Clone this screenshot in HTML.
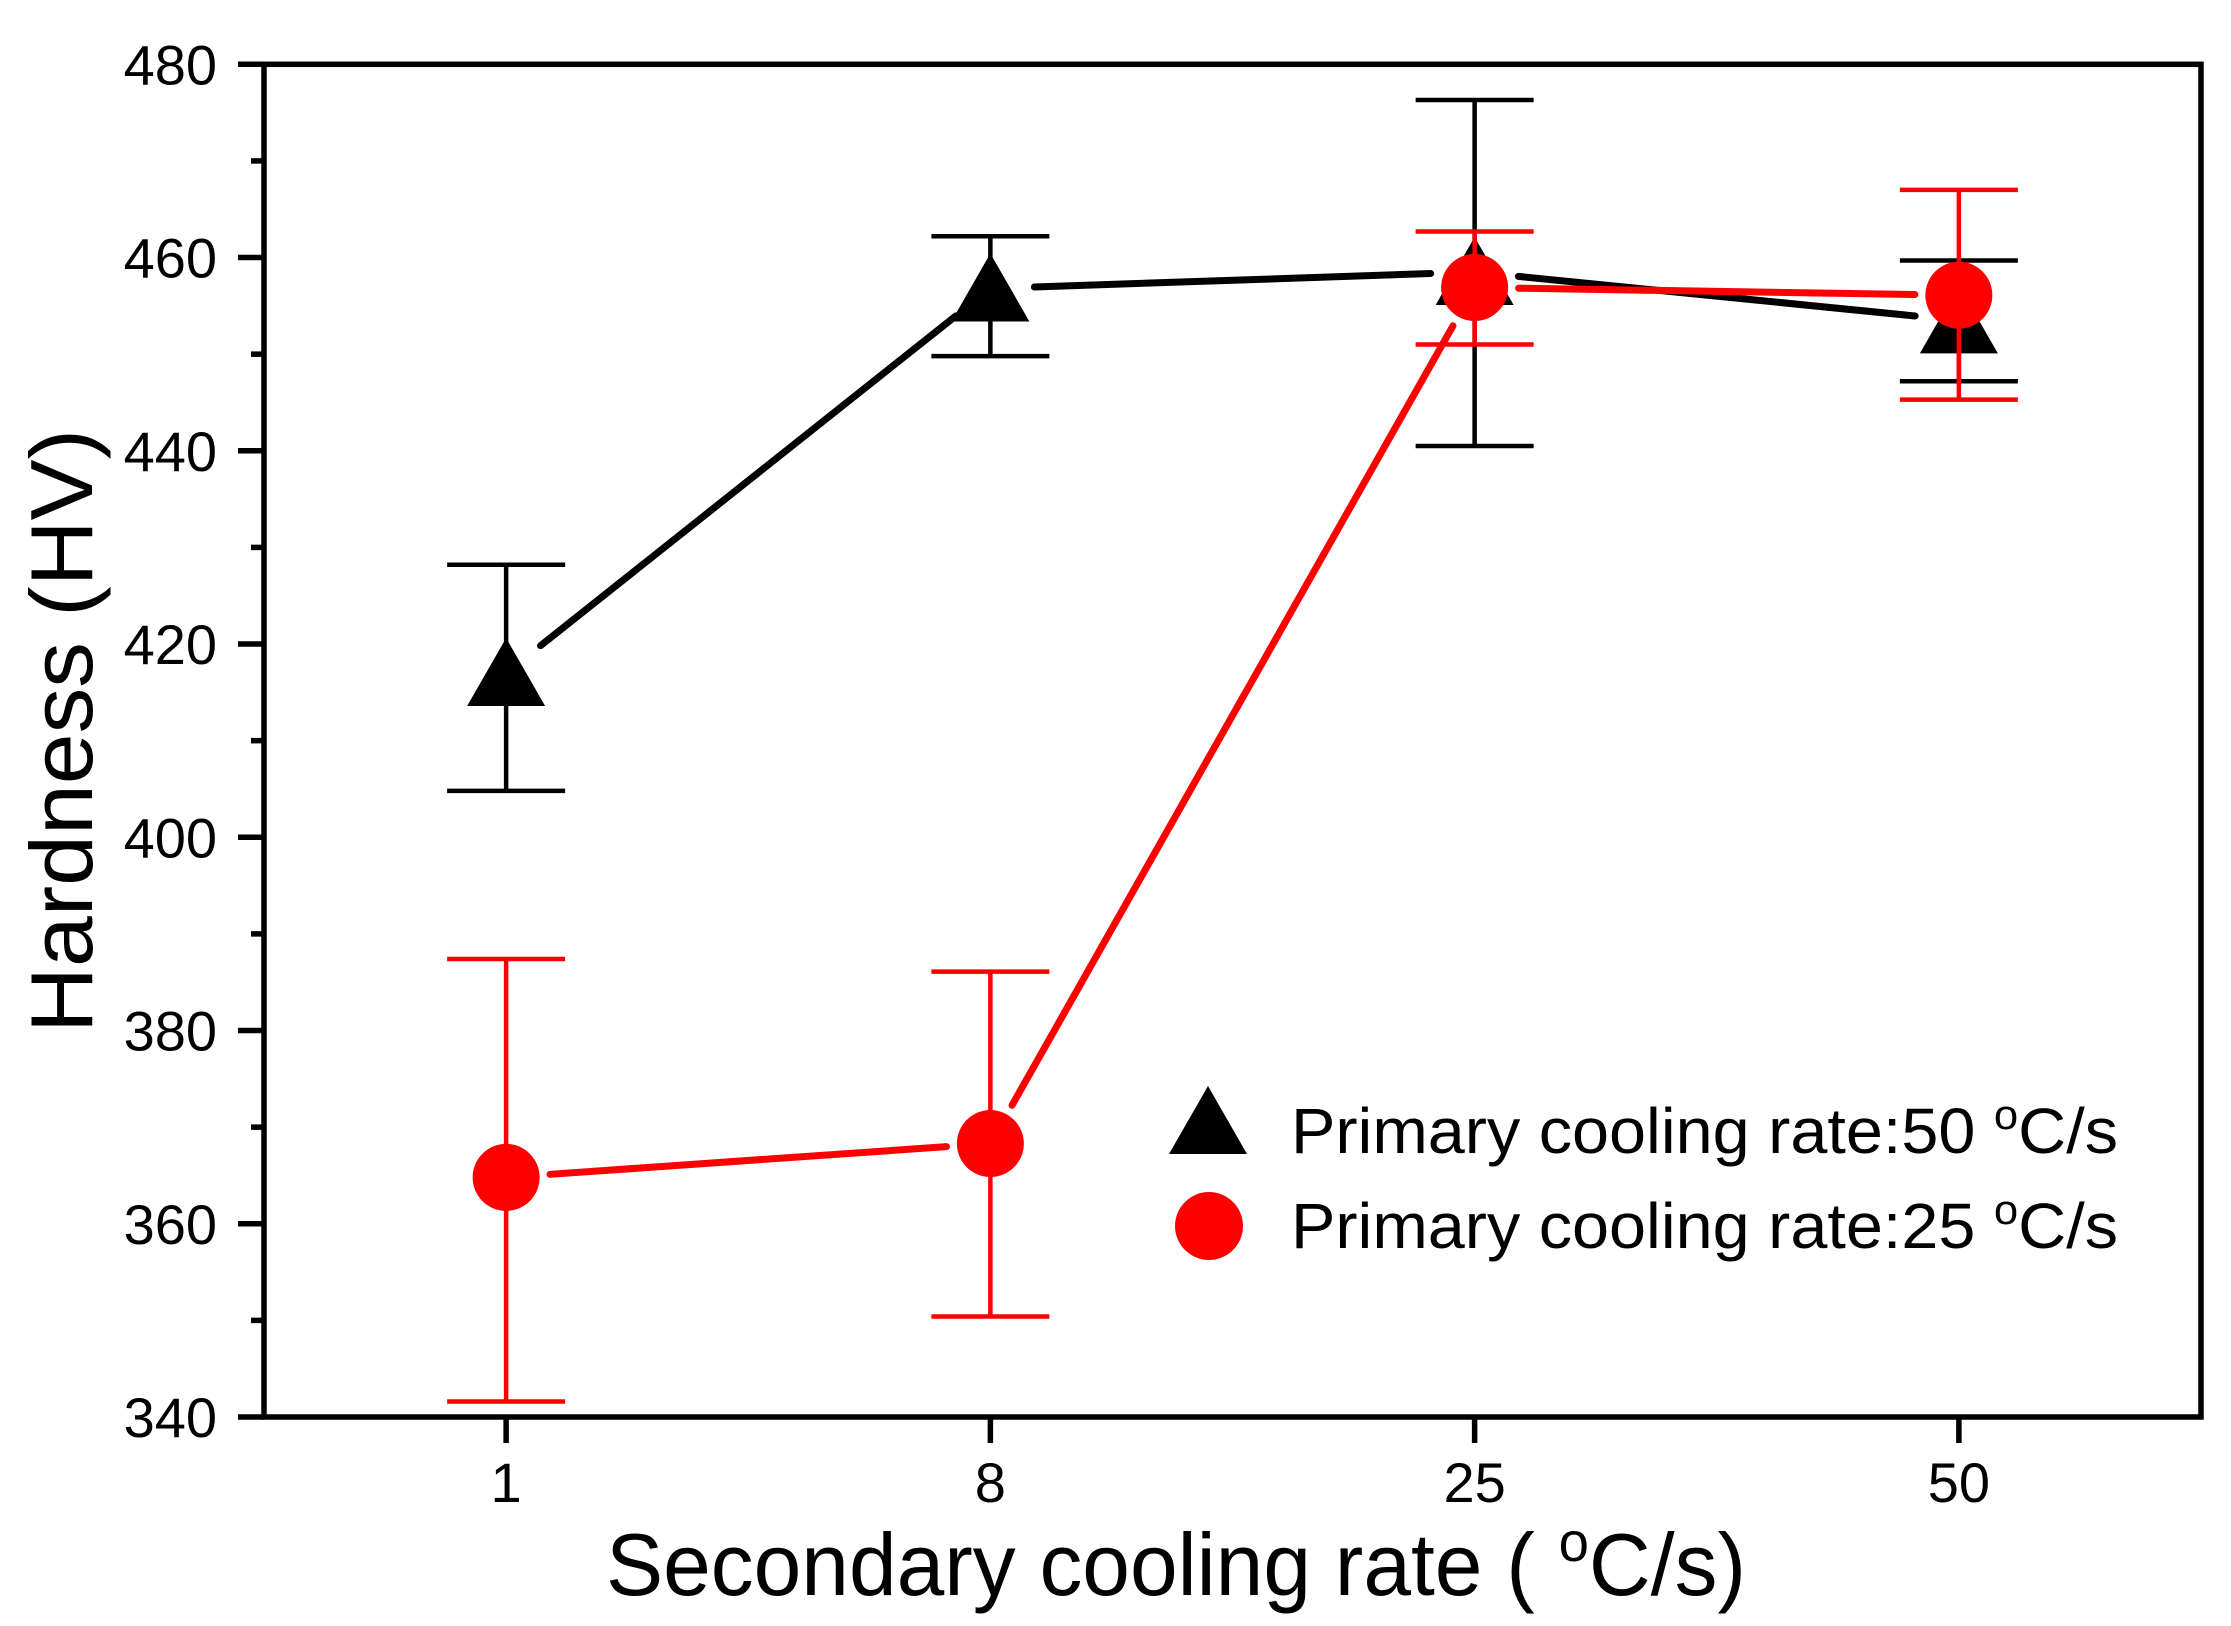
<!DOCTYPE html>
<html><head><meta charset="utf-8"><style>
html,body{margin:0;padding:0;background:#fff;}
svg{display:block;font-family:"Liberation Sans",Arial,sans-serif;}
</style></head><body>
<svg id="chart" width="2231" height="1626" viewBox="0 0 2231 1626" xmlns="http://www.w3.org/2000/svg">
<rect x="0" y="0" width="2231" height="1626" fill="#fff"/>
<g id="marks"></g>
<rect x="264" y="64.3" width="1937" height="1352.7" fill="none" stroke="#000" stroke-width="5.5"/>
<g id="axes"></g>
<text x="606" y="1595" font-size="88" textLength="1140" lengthAdjust="spacingAndGlyphs">Secondary cooling rate ( <tspan dy="-34" font-size="56">o</tspan><tspan dy="34">C/s)</tspan></text>
<text transform="translate(92,1033) rotate(-90)" font-size="88" textLength="604" lengthAdjust="spacingAndGlyphs">Hardness (HV)</text>
<g>
<polygon points="1208,1086 1247,1154 1169,1154" fill="#000"/>
<text x="1291" y="1153" font-size="64" textLength="827" lengthAdjust="spacingAndGlyphs">Primary cooling rate:50 <tspan dy="-24" font-size="42">o</tspan><tspan dy="24">C/s</tspan></text>
<ellipse cx="1209" cy="1226" rx="34" ry="34" fill="#f00"/>
<text x="1291" y="1248" font-size="64" textLength="827" lengthAdjust="spacingAndGlyphs">Primary cooling rate:25 <tspan dy="-24" font-size="42">o</tspan><tspan dy="24">C/s</tspan></text>
</g>
</svg>
<script>
const categories = ["1", "8", "25", "50"];
const yTicks = [340, 360, 380, 400, 420, 440, 460, 480];
const black50 = [417.0, 456.8, 458.5, 453.5];
const black50Lo = [404.8, 449.8, 440.5, 447.2];
const black50Hi = [428.2, 462.2, 476.3, 459.7];
const red25 = [364.8, 368.3, 456.9, 456.1];
const red25Lo = [341.6, 350.4, 451.0, 445.3];
const red25Hi = [387.4, 386.1, 462.7, 467.0];

const NS = "http://www.w3.org/2000/svg";
const L = 264, R = 2201, T = 64.3, B = 1417;
const yMin = 340, yMax = 480;
function xPos(i){ return L + (i + 0.5) * (R - L) / categories.length; }
function yPos(v){ return B - (v - yMin) / (yMax - yMin) * (B - T); }
function mk(tag, attrs, parent){
  const e = document.createElementNS(NS, tag);
  for (const k in attrs) e.setAttribute(k, attrs[k]);
  parent.appendChild(e); return e;
}
const axes = document.getElementById('axes');
const marks = document.getElementById('marks');

yTicks.forEach((v, i) => {
  const y = yPos(v);
  const t = mk('line', {x1: L - 26, x2: L, y1: y, y2: y, stroke: '#000', 'stroke-width': 5.5}, axes);
  
  
  const lb = mk('text', {x: 217, y: y + 20, 'font-size': 56, 'text-anchor': 'end'}, axes);
  lb.textContent = String(v);
  
  
  if (i < yTicks.length - 1) {
    const ym = yPos(v + (yTicks[1] - yTicks[0]) / 2);
    const m = mk('line', {x1: L - 13, x2: L, y1: ym, y2: ym, stroke: '#000', 'stroke-width': 5.5}, axes);
    
    
  }
});
categories.forEach((c, i) => {
  const x = xPos(i);
  const t = mk('line', {x1: x, x2: x, y1: B, y2: B + 26, stroke: '#000', 'stroke-width': 5.5}, axes);
  
  
  const lb = mk('text', {x: x, y: 1502, 'font-size': 56, 'text-anchor': 'middle'}, axes);
  lb.textContent = c;
  
  
});

function series(vals, lo, hi, color, shape, name){
  const g = mk('g', {}, marks);
  
  
  for (let i = 0; i < vals.length - 1; i++) {
    const x1 = xPos(i), y1 = yPos(vals[i]), x2 = xPos(i + 1), y2 = yPos(vals[i + 1]);
    const dx = x2 - x1, dy = y2 - y1, len = Math.hypot(dx, dy), gap = 44;
    if (len <= 2 * gap) continue;
    const ln = mk('line', {x1: x1 + dx / len * gap, y1: y1 + dy / len * gap, x2: x2 - dx / len * gap, y2: y2 - dy / len * gap, stroke: color, 'stroke-width': 7, 'stroke-linecap': 'round'}, g);
    
    
  }
  vals.forEach((v, i) => {
    const x = xPos(i), yl = yPos(lo[i]), yh = yPos(hi[i]);
    const eb = mk('path', {d: `M${x},${yl}V${yh}M${x - 59},${yh}H${x + 59}M${x - 59},${yl}H${x + 59}`, stroke: color, 'stroke-width': 4.5, fill: 'none'}, g);
    
    
  });
  vals.forEach((v, i) => {
    const x = xPos(i), y = yPos(v);
    let m;
    if (shape === 'tri') {
      m = mk('polygon', {points: `${x},${y - 35} ${x + 39},${y + 33} ${x - 39},${y + 33}`, fill: color, 'stroke-linejoin': 'round'}, g);
    } else {
      m = mk('circle', {cx: x, cy: y, r: 33.5, fill: color}, g);
    }
    
    
  });
}
series(black50, black50Lo, black50Hi, '#000', 'tri', 'series-primary-50');
series(red25, red25Lo, red25Hi, '#f00', 'circle', 'series-primary-25');
</script>
</body></html>
